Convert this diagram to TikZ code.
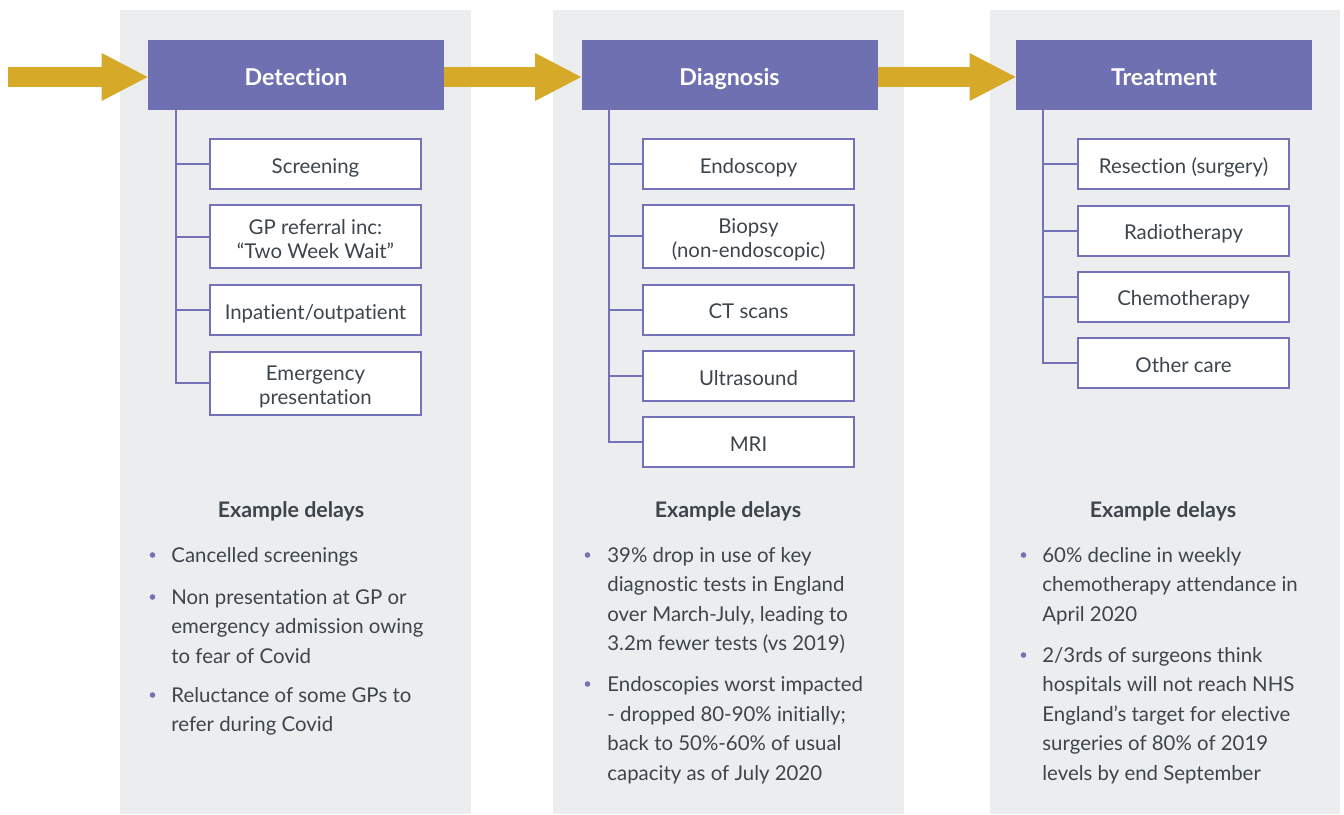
\documentclass[tikz,border=0pt]{standalone}
\usepackage{fontspec}
\setmainfont{Lato}[Ligatures={TeX,NoCommon}]
\usetikzlibrary{arrows.meta}
\definecolor{panelgray}{HTML}{ECEDEF}
\definecolor{headpurple}{HTML}{6F70B2}
\definecolor{boxpurple}{HTML}{7372B8}
\definecolor{gold}{HTML}{D6AA28}
\definecolor{ink}{HTML}{3D454C}
\begin{document}
\begin{tikzpicture}[x=0.5pt, y=-0.5pt, line join=miter,
	panel/.style={fill=panelgray},
	head/.style={fill=headpurple, text=white, inner sep=0pt, minimum width=148pt, minimum height=35pt, text height=10pt, text depth=0pt, font=\fontsize{11.6}{14}\selectfont\bfseries},
	stage/.style={draw=boxpurple, line width=1pt, fill=white, text=ink, align=center, inner sep=0pt, minimum width=105.5pt, minimum height=25pt, text height=9pt, text depth=0pt, font=\fontsize{10.2}{12}\selectfont},
	tall/.style={minimum height=31.5pt, text height=21.5pt},
	flow/.style={draw=gold, line width=10pt, -{Triangle[length=23pt, width=24pt, line width=0pt]}},
	trunk/.style={draw=boxpurple, line width=1pt},
	title/.style={text=ink, anchor=base, inner sep=0pt, font=\fontsize{10.7}{12}\selectfont\bfseries},
	delay/.style={text=ink, anchor=base west, align=left, inner sep=0pt, font=\fontsize{10.2}{14.75}\selectfont},
	dot/.style={fill=boxpurple}]
	\useasboundingbox (0,0) rectangle (1344,814);
	% grey columns
	\fill[panel] (120,10) rectangle (471,814);
	\fill[panel] (553,10) rectangle (904,814);
	\fill[panel] (990,10) rectangle (1340,814);
	% stage headers
	\node[head] (det) at (296,75) {Detection};
	\node[head] (diag) at (729.5,75) {Diagnosis};
	\node[head] (treat) at (1164,75) {Treatment};
	\coordinate (start) at (8,77);
	\draw[flow] (start) -- ([yshift=-1pt]det.west);
	\draw[flow] ([yshift=-1pt]det.east) -- ([yshift=-1pt]diag.west);
	\draw[flow] ([yshift=-1pt]diag.east) -- ([yshift=-1pt]treat.west);
	% detection
	\node[stage] (det1) at (315.5,164) {Screening};
	\node[stage, tall] (det2) at (315.5,236.5) {GP referral inc:\\``Two Week Wait''};
	\node[stage] (det3) at (315.5,310) {Inpatient/outpatient};
	\node[stage, tall] (det4) at (315.5,383) {Emergency\\presentation};
	\coordinate (detroot) at (176,110);
	\draw[trunk] (detroot) |- (det4.west) (detroot) |- (det1.west) (detroot) |- (det2.west) (detroot) |- (det3.west);
	% diagnosis
	\node[stage] (diag1) at (748.5,164) {Endoscopy};
	\node[stage, tall] (diag2) at (748.5,236) {Biopsy\\(non-endoscopic)};
	\node[stage] (diag3) at (748.5,309.5) {CT scans};
	\node[stage] (diag4) at (748.5,376) {Ultrasound};
	\node[stage] (diag5) at (748.5,442) {MRI};
	\coordinate (diagroot) at (609,110);
	\draw[trunk] (diagroot) |- (diag5.west) (diagroot) |- (diag1.west) (diagroot) |- (diag2.west) (diagroot) |- (diag3.west) (diagroot) |- (diag4.west);
	% treatment
	\node[stage] (treat1) at (1183.5,164) {Resection (surgery)};
	\node[stage] (treat2) at (1183.5,230.5) {Radiotherapy};
	\node[stage] (treat3) at (1183.5,296.5) {Chemotherapy};
	\node[stage] (treat4) at (1183.5,363) {Other care};
	\coordinate (treatroot) at (1043,110);
	\draw[trunk] (treatroot) |- (treat4.west) (treatroot) |- (treat1.west) (treatroot) |- (treat2.west) (treatroot) |- (treat3.west);
	% example delays (nodes sit on the baseline of their last line)
	\node[title] (dettitle) at (291,517) {Example delays};
	\node[title] (diagtitle) at (728,517) {Example delays};
	\node[title] (treattitle) at (1163,517) {Example delays};
	\fill[dot] (152.5,555) circle(1.4pt);
	\fill[dot] (152.5,597) circle(1.4pt);
	\fill[dot] (152.5,695) circle(1.4pt);
	\node[delay] (detd1) at (171,562) {Cancelled screenings};
	\node[delay] (detd2) at (171,663) {Non presentation at GP or\\emergency admission owing\\to fear of Covid};
	\node[delay] (detd3) at (171,731.5) {Reluctance of some GPs to\\refer during Covid};
	\fill[dot] (587.5,555) circle(1.4pt);
	\fill[dot] (587.5,684) circle(1.4pt);
	\node[delay] (diagd1) at (607,650.5) {39\% drop in use of key\\diagnostic tests in England\\over March-July, leading to\\3.2m fewer tests (vs 2019)};
	\node[delay] (diagd2) at (607,780) {Endoscopies worst impacted\\- dropped 80-90\% initially;\\back to 50\%-60\% of usual\\capacity as of July 2020};
	\fill[dot] (1023.5,555) circle(1.4pt);
	\fill[dot] (1023.5,655) circle(1.4pt);
	\node[delay] (treatd1) at (1042,621) {60\% decline in weekly\\chemotherapy attendance in\\April 2020};
	\node[delay] (treatd2) at (1042,780) {2/3rds of surgeons think\\hospitals will not reach NHS\\England’s target for elective\\surgeries of 80\% of 2019\\levels by end September};
\end{tikzpicture}
\end{document}
